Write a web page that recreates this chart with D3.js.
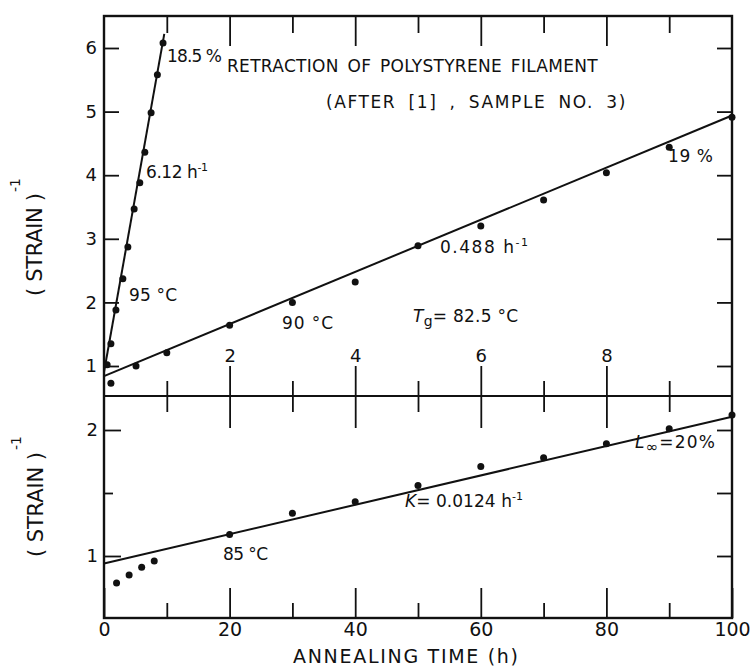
<!DOCTYPE html>
<html>
<head>
<meta charset="utf-8">
<script src="https://cdn.jsdelivr.net/npm/d3@7"></script>
<style>
  body { margin: 0; background: #fff; }
  svg { display: block; }
  text { font-family: "DejaVu Sans", "Liberation Sans", sans-serif; fill: #111; }
</style>
</head>
<body>
<svg id="chart" width="756" height="666"></svg>
<script>
// Retraction of a polystyrene filament: (strain)^-1 against annealing time.
// Upper panel: 95 °C and 90 °C runs on the 0–10 h scale.
// Lower panel: 85 °C run on the 0–100 h scale.

// Tick values
const upperTicks = [1, 2, 3, 4, 5, 6];
const lowerTicks = [1, 2];
const lowerMinorTicks = [1.5];
const shortTimeMajor = [2, 4, 6, 8];
const shortTimeMinor = [1, 3, 5, 7, 9];
const longTimeLabels = [0, 20, 40, 60, 80, 100];
const longTimeMinor = [10, 30, 50, 70, 90];

// 95 °C run (hours, inverse strain)
const hours95 = [0.05, 0.11, 0.19, 0.30, 0.38, 0.48, 0.57, 0.65, 0.75, 0.85, 0.94];
const inv95   = [1.02, 1.35, 1.88, 2.37, 2.87, 3.47, 3.88, 4.36, 4.98, 5.58, 6.08];

// 90 °C run
const hours90 = [0.11, 0.51, 1.0, 2.0, 3.0, 4.0, 5.0, 6.0, 7.0, 8.0, 9.0, 10.0];
const inv90   = [0.73, 1.00, 1.21, 1.64, 2.00, 2.32, 2.89, 3.20, 3.61, 4.04, 4.44, 4.91];

// 85 °C run
const hours85 = [2, 4, 6, 8, 20, 30, 40, 50, 60, 70, 80, 90, 100];
const inv85   = [0.785, 0.85, 0.91, 0.96, 1.17, 1.34, 1.43, 1.56, 1.71, 1.78, 1.89, 2.01, 2.12];

// Fitted lines (strain)^-1 = a * (1 + K t), for 95, 90, 85 °C
const fitRates = [6.12, 0.488, 0.0124];
const fitIntercepts = [0.905, 0.84, 0.94];
const fitEndHours = [0.96, 10, 100];

// Frame geometry
const L = 104, R = 732, T = 16, M = 396, B = 618;
const ink = "#111";

const svg = d3.select("#chart");

const xShort = d3.scaleLinear().domain([0, 10]).range([L, R]);
const xLong  = d3.scaleLinear().domain([0, 100]).range([L, R]);
const yUp  = d3.scaleLinear().domain([1, 6]).range([366, 48]);
const yLow = d3.scaleLinear().domain([1, 2]).range([556, 430]);

function styleAxis(g, size) {
  g.select(".domain").remove();
  g.attr("font-family", null).attr("font-size", size || 17);
  g.selectAll("line").attr("stroke", ink).attr("stroke-width", 1.8);
  g.selectAll("text").attr("fill", ink);
}

function addAxis(axis, tx, ty, size) {
  svg.append("g")
    .attr("transform", `translate(${tx},${ty})`)
    .call(axis)
    .call(g => styleAxis(g, size));
}

// Left axes
addAxis(d3.axisLeft(yUp).tickValues(upperTicks).tickSizeInner(-15).tickSizeOuter(0)
  .tickPadding(7).tickFormat(d3.format("d")), L, 0, 18);
addAxis(d3.axisLeft(yLow).tickValues(lowerTicks).tickSizeInner(-17).tickSizeOuter(0)
  .tickPadding(6).tickFormat(d3.format("d")), L, 0, 18);
addAxis(d3.axisLeft(yLow).tickValues(lowerMinorTicks).tickSizeInner(-9).tickSizeOuter(0)
  .tickFormat(""), L, 0);

// Right axes
addAxis(d3.axisRight(yUp).tickValues(upperTicks).tickSizeInner(-15).tickSizeOuter(0)
  .tickFormat(""), R, 0);
addAxis(d3.axisRight(yLow).tickValues(lowerTicks.concat(lowerMinorTicks)).tickSizeInner(-15)
  .tickSizeOuter(0).tickFormat(""), R, 0);

// Top border ticks (hanging inward)
addAxis(d3.axisTop(xShort).tickValues(shortTimeMajor).tickSizeInner(-30).tickSizeOuter(0)
  .tickFormat(""), 0, T);
addAxis(d3.axisTop(xShort).tickValues(shortTimeMinor).tickSizeInner(-17).tickSizeOuter(0)
  .tickFormat(""), 0, T);

// Divider: short time scale, ticks crossing the line
addAxis(d3.axisTop(xShort).tickValues(shortTimeMajor).tickSizeInner(30).tickSizeOuter(0)
  .tickPadding(4).tickFormat(d3.format("d")), 0, M, 18);
addAxis(d3.axisTop(xShort).tickValues(shortTimeMinor).tickSizeInner(15).tickSizeOuter(0)
  .tickFormat(""), 0, M);
addAxis(d3.axisBottom(xShort).tickValues(shortTimeMajor).tickSizeInner(32).tickSizeOuter(0)
  .tickFormat(""), 0, M);
addAxis(d3.axisBottom(xShort).tickValues(shortTimeMinor).tickSizeInner(16).tickSizeOuter(0)
  .tickFormat(""), 0, M);

// Bottom border: long time scale
addAxis(d3.axisBottom(xLong).tickValues(longTimeLabels).tickSizeInner(-30).tickSizeOuter(0)
  .tickPadding(5).tickFormat(d3.format("d")), 0, B, 19);
addAxis(d3.axisBottom(xLong).tickValues(longTimeMinor).tickSizeInner(-15).tickSizeOuter(0)
  .tickFormat(""), 0, B);

// Frame and divider
svg.append("rect")
  .attr("x", L).attr("y", T).attr("width", R - L).attr("height", B - T)
  .attr("fill", "none").attr("stroke", ink).attr("stroke-width", 2.4);
svg.append("line")
  .attr("x1", L).attr("x2", R).attr("y1", M).attr("y2", M)
  .attr("stroke", ink).attr("stroke-width", 2.2);

// Fitted lines
const fitScales = [[xShort, yUp], [xShort, yUp], [xLong, yLow]];
fitRates.forEach((k, i) => {
  const [xs, ys] = fitScales[i];
  const a = fitIntercepts[i];
  const pts = [0, fitEndHours[i]].map(t => [t, a * (1 + k * t)]);
  svg.append("path")
    .attr("d", d3.line().x(d => xs(d[0])).y(d => ys(d[1]))(pts))
    .attr("fill", "none").attr("stroke", ink).attr("stroke-width", 2);
});

// Data points
function dots(hours, vals, xs, ys) {
  svg.append("g").selectAll("circle")
    .data(hours.map((h, i) => [h, vals[i]]))
    .join("circle")
    .attr("cx", d => xs(d[0])).attr("cy", d => ys(d[1]))
    .attr("r", 3.5).attr("fill", ink);
}
dots(hours95, inv95, xShort, yUp);
dots(hours90, inv90, xShort, yUp);
dots(hours85, inv85, xLong, yLow);

// Annotation helper: parts = [[text, {attrs}], ...]
function label(x, y, parts, size, len) {
  const t = svg.append("text").attr("x", x).attr("y", y).attr("font-size", size || 17);
  parts.forEach(p => {
    const s = t.append("tspan").text(p[0]);
    Object.entries(p[1] || {}).forEach(([k, v]) => s.attr(k, v));
  });
  if (len) t.attr("textLength", len).attr("lengthAdjust", "spacing");
  return t;
}

// Spread a line to a given width: a little letter spacing, the rest between words
function spreadWords(t, width, letterSp) {
  t.attr("letter-spacing", letterSp);
  const s = t.text();
  const gaps = (s.match(/ /g) || []).length;
  const natural = t.node().getComputedTextLength();
  if (gaps) t.attr("word-spacing", Math.max(0, (width - natural) / gaps));
}

const sup = { dy: -7, "font-size": 11 };

const title = label(227, 72, [["RETRACTION OF POLYSTYRENE FILAMENT"]], 17);
spreadWords(title, 371, 0.3);
const subtitle = label(326, 108, [["(AFTER [1] , SAMPLE NO. 3)"]], 17);
spreadWords(subtitle, 301, 1.6);

label(167, 62, [["18.5 %"]], 17, 55);
label(146, 178, [["6.12 h"], ["-1", sup]], 17, 62);
label(129, 301, [["95 °C"]], 17, 48);
label(282, 329, [["90 °C"]], 17, 51);
label(413, 322, [["T", { "font-style": "italic" }], ["g", { dy: 4, "font-size": 14 }],
  ["= 82.5 °C", { dy: -4 }]], 17, 105);
label(440, 253, [["0.488 h"], ["-1", sup]], 17, 88);
label(668, 162, [["19 %"]], 17, 45);
label(223, 560, [["85 °C"]], 17, 45);
label(405, 507, [["K", { "font-style": "italic" }], ["= 0.0124 h"], ["-1", sup]], 17, 118);
label(635, 448, [["L", { "font-style": "italic" }], ["∞", { dy: 4, "font-size": 15 }],
  ["=20%", { dy: -4 }]], 17, 80);

// X axis title
label(293, 663, [["ANNEALING TIME (h)"]], 19, 225);

// Y axis titles (rotated)
function yTitle(baseX, fromY, toY, supY) {
  const g = svg.append("g").attr("transform", `translate(${baseX},0) rotate(-90)`);
  g.append("text").attr("x", -fromY).attr("y", 0).attr("font-size", 21)
    .attr("textLength", fromY - toY).attr("lengthAdjust", "spacing")
    .text("( STRAIN )");
  g.append("text").attr("x", -supY).attr("y", -22).attr("font-size", 14).text("-1");
}
yTitle(42, 296, 193, 192);
yTitle(43, 557, 452, 450);
</script>
</body>
</html>
